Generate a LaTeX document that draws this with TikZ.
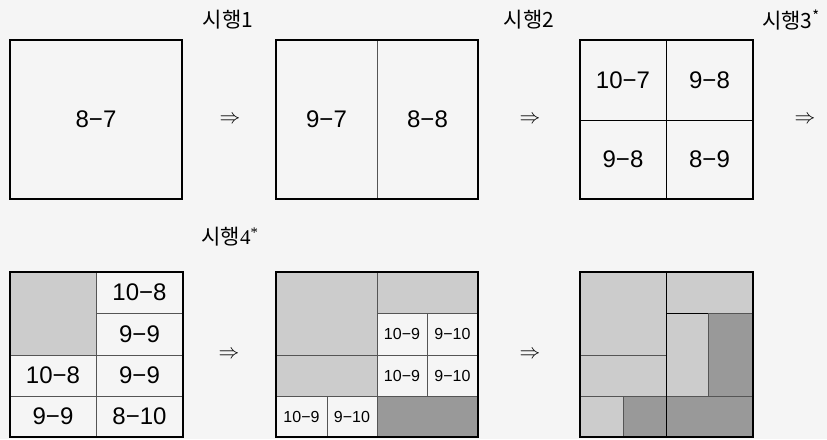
\documentclass[tikz,border=0pt]{standalone}
\usepackage{fontspec}
\setmainfont{Liberation Sans}
\newfontfamily\krfont{Noto Sans CJK KR}
\newfontfamily\numserif{Liberation Serif}
\definecolor{bgc}{HTML}{F5F5F5}
\definecolor{lightc}{HTML}{CCCCCC}
\definecolor{darkc}{HTML}{999999}
\definecolor{linec}{HTML}{555555}
\tikzset{
  cellbox/.style={draw=linec, line width=0.8pt, inner sep=0pt, outer sep=0pt},
  outerbox/.style={draw=black, line width=2.4pt, inner sep=0pt, outer sep=0pt},
  bigtxt/.style={font=\fontsize{24}{28}\selectfont},
  smalltxt/.style={font=\fontsize{16}{19}\selectfont},
  arrowsym/.style={font=\fontsize{20}{22}\selectfont, inner sep=0pt},
  trial/.style={font=\fontsize{21}{24}\selectfont, inner sep=0pt},
}
% name, x1, y1, x2, y2, style, text
\newcommand\mycell[7]{%
  \node[cellbox, #6, minimum width={(#4-#2)*1pt}, minimum height={(#5-#3)*1pt}]
    (#1) at ({(#2+#4)/2},{(#3+#5)/2}) {#7};}
\newcommand\myouter[5]{%
  \node[outerbox, minimum width={(#4-#2)*1pt}, minimum height={(#5-#3)*1pt}]
    (#1) at ({(#2+#4)/2},{(#3+#5)/2}) {};}
\begin{document}
\begin{tikzpicture}[x=1pt,y=-1pt]
\fill[bgc] (0,0) rectangle (827,439);
\useasboundingbox (0,0) rectangle (827,439);

% labels
\node[trial] (t1) at (228,20) {\krfont 시행1};
\node[trial] (t2) at (529,20) {\krfont 시행2};
\node[trial] (t3) at (791,20) {\krfont 시행3\textsuperscript{*}};
\node[trial] (t4) at (230,237) {\krfont 시행\numserif 4\textsuperscript{*}};

% box 1
\mycell{a1}{10}{40}{182}{199}{bigtxt}{8−7}
\myouter{b1}{10}{40}{182}{199}

% box 2
\mycell{a21}{276}{40}{377}{199}{bigtxt}{9−7}
\mycell{a22}{377}{40}{478}{199}{bigtxt}{8−8}
\myouter{b2}{276}{40}{478}{199}

% box 3
\mycell{a31}{580}{40}{666}{120}{bigtxt,draw=black}{10−7}
\mycell{a32}{666}{40}{753}{120}{bigtxt,draw=black}{9−8}
\mycell{a33}{580}{120}{666}{199}{bigtxt,draw=black}{9−8}
\mycell{a34}{666}{120}{753}{199}{bigtxt,draw=black}{8−9}
\myouter{b3}{580}{40}{753}{199}

% box 4
\mycell{c1}{10}{272}{96}{355}{fill=lightc}{}
\mycell{c2}{96}{272}{183}{313}{bigtxt}{10−8}
\mycell{c3}{96}{313}{183}{355}{bigtxt}{9−9}
\mycell{c4}{10}{355}{96}{396}{bigtxt}{10−8}
\mycell{c5}{96}{355}{183}{396}{bigtxt}{9−9}
\mycell{c6}{10}{396}{96}{437}{bigtxt}{9−9}
\mycell{c7}{96}{396}{183}{437}{bigtxt}{8−10}
\myouter{b4}{10}{272}{183}{437}

% box 5
\mycell{d1}{276}{272}{377}{355}{fill=lightc}{}
\mycell{d2}{377}{272}{478}{313}{fill=lightc}{}
\mycell{d3}{377}{313}{427}{355}{smalltxt}{10−9}
\mycell{d4}{427}{313}{478}{355}{smalltxt}{9−10}
\mycell{d5}{276}{355}{377}{396}{fill=lightc}{}
\mycell{d6}{377}{355}{427}{396}{smalltxt}{10−9}
\mycell{d7}{427}{355}{478}{396}{smalltxt}{9−10}
\mycell{d8}{276}{396}{327}{437}{smalltxt}{10−9}
\mycell{d9}{327}{396}{377}{437}{smalltxt}{9−10}
\mycell{d10}{377}{396}{478}{437}{fill=darkc}{}
\myouter{b5}{276}{272}{478}{437}

% box 6
\mycell{e1}{580}{272}{666}{355}{fill=lightc}{}
\mycell{e2}{666}{272}{753}{313}{fill=lightc,draw=black}{}
\mycell{e3}{666}{313}{708}{396}{fill=lightc,draw=black}{}
\mycell{e4}{708}{313}{753}{396}{fill=darkc}{}
\mycell{e5}{580}{355}{666}{396}{fill=lightc}{}
\mycell{e6}{580}{396}{623}{437}{fill=lightc}{}
\mycell{e7}{623}{396}{666}{437}{fill=darkc}{}
\mycell{e8}{666}{396}{753}{437}{fill=darkc}{}
\draw[black, line width=0.8pt] (e1.north east) -- (e8.south west);
\myouter{b6}{580}{272}{753}{437}

% arrows
\node[arrowsym] (r1) at (230,120) {$\Rightarrow$};
\node[arrowsym] (r2) at (530,120) {$\Rightarrow$};
\node[arrowsym] (r3) at (805,120) {$\Rightarrow$};
\node[arrowsym] (r4) at (229,355) {$\Rightarrow$};
\node[arrowsym] (r5) at (530,355) {$\Rightarrow$};
\end{tikzpicture}
\end{document}
